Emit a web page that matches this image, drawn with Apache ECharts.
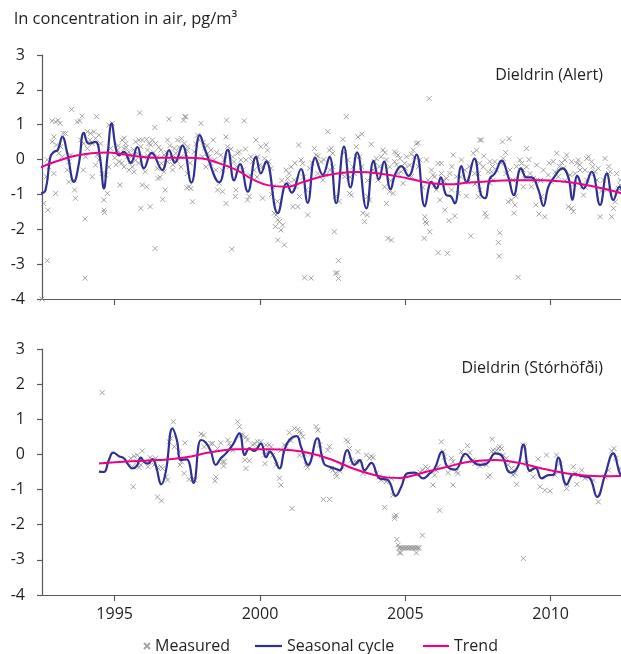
<!DOCTYPE html>
<html><head><meta charset="utf-8">
<script src="https://cdn.jsdelivr.net/npm/echarts@6/dist/echarts.min.js"></script>
<style>html,body{margin:0;padding:0;background:#fff}#c{width:621px;height:654px}</style>
</head><body><div id="c"></div>
<script>
const xTickYears = [1995, 2000, 2005, 2010];
const yMin = -4, yMax = 3;

const alertMeasured = [
[1992.5,-4.0],[1992.65,-0.49],[1992.56,-1.26],[1992.7,-1.45],[1992.68,-2.9],[1992.85,1.11],[1992.97,1.08],[1993.05,1.13],[1993.12,1.04],[1992.91,0.65],[1992.85,0.51],[1993.0,0.42],[1992.91,-0.4],[1992.97,-0.97],[1993.23,0.75],[1993.31,0.75],[1993.37,-0.3],[1993.42,-0.64],[1993.52,1.44],[1993.6,-0.59],[1993.62,-0.87],[1993.65,-1.11],[1993.71,1.08],[1993.8,1.11],[1993.88,1.25],[1993.92,-0.3],[1993.98,-1.7],[1993.98,-3.4],[1994.06,0.8],[1994.17,0.75],[1994.29,0.8],[1994.15,0.56],[1994.23,0.46],[1994.23,-0.49],[1994.38,1.23],[1994.34,0.61],[1994.46,0.7],[1994.34,-0.16],[1994.63,-1.16],[1994.63,-1.45],[1994.65,-1.52],[1994.75,-0.97],[1995.18,-0.73],[1994.92,1.04],[1994.8,0.99],[1995.26,0.56],[1995.32,0.61],[1995.38,0.46],[1995.44,0.08],[1995.55,-0.06],[1995.61,-0.21],[1995.67,-0.35],[1995.86,1.34],[1995.9,-1.4],[1995.95,-0.73],[1996.1,-0.78],[1996.22,-1.35],[1996.39,-2.55],[1996.38,0.92],[1996.49,-0.54],[1996.56,-0.51],[1996.65,-1.14],[1996.74,-0.87],[1996.87,1.16],[1996.82,0.56],[1997.16,0.56],[1997.22,0.35],[1997.37,1.13],[1997.41,1.23],[1997.48,-0.81],[1997.5,-0.4],
[1995.09,0.27],[1995.21,0.18],[1995.32,0.32],[1995.49,0.22],[1995.55,0.13],[1995.72,-0.02],[1995.78,0.18],[1995.9,0.37],[1996.01,0.08],[1996.13,0.27],[1996.18,0.46],[1996.3,0.56],[1996.41,0.46],[1996.47,0.08],[1996.59,0.27],[1996.7,0.13],[1996.82,-0.06],[1996.99,0.03],[1997.05,0.32],[1997.1,0.18],[1997.28,0.08],[1997.39,0.46],[1997.5,0.27],[1995.72,0.51],[1995.84,0.56],[1995.95,0.56],[1996.1,0.58],[1996.24,0.42],[1996.47,-0.25],[1996.61,-0.11],[1996.7,-0.35],[1996.99,-0.3],[1997.28,-0.21],[1995.15,-0.06],[1995.32,-0.21],[1995.49,-0.3],
[1992.68,-0.01],[1992.74,-0.21],[1993.08,0.18],[1993.14,0.37],[1993.2,0.08],[1993.43,-0.06],[1993.48,0.13],[1993.83,0.56],[1993.94,0.46],[1994.0,0.08],[1994.06,0.32],[1994.4,0.13],[1994.46,-0.01],[1994.52,0.46],[1994.57,-0.4],[1994.69,-0.44],[1994.8,-0.21],[1994.86,0.32],
[1997.45,1.23],[1997.97,1.04],[1997.68,-1.21],[1997.85,0.7],[1997.91,0.56],[1997.56,-0.78],[1997.62,-0.83],[1998.2,0.18],[1998.25,0.08],[1998.39,0.56],[1998.43,-0.01],[1998.48,-0.3],[1998.54,-0.87],[1998.6,-0.68],[1998.71,-0.92],[1998.83,0.65],[1998.85,1.13],[1998.88,0.37],[1998.83,-1.26],[1999.03,-2.57],[1999.15,-1.06],[1999.17,-0.87],[1999.23,0.18],[1999.29,0.22],[1999.34,-0.01],[1999.46,1.11],[1999.52,-0.01],[1999.57,-1.16],[1999.63,-1.06],[1999.86,0.56],[1999.92,0.08],[1999.98,-0.16],[2000.09,-1.11],[2000.21,0.42],[2000.26,0.27],[2000.3,-0.06],[2000.49,-1.54],[2000.55,-1.59],[2000.53,-1.92],[2000.61,-1.73],[2000.67,-1.78],[2000.72,-2.02],[2000.61,-2.31],[2000.84,-2.45],[2000.78,-1.88],[2000.9,-0.3],[2000.95,-0.54],[2001.13,-1.35],[2001.3,-1.35],[2001.36,-1.06],[2001.33,0.42],[2001.41,-0.01],[2001.47,-0.11],[2001.53,-3.39],[2001.76,-3.4],[2001.64,-1.59],[2001.87,0.32],[2001.93,0.13],[2002.33,0.8],[2002.39,0.27],[2002.45,0.32],[2002.6,-1.06],[2002.6,-3.26],[2002.56,-2.07],
[1997.51,0.37],[1997.74,0.22],[1998.02,0.08],[1998.08,0.32],[1998.14,-0.21],[1998.31,0.27],[1998.65,0.13],[1998.77,-0.01],[1998.94,-0.21],[1999.06,0.08],[1999.11,-0.06],[1999.4,-0.3],[1999.69,0.08],[1999.75,-0.06],[1999.8,-0.3],[2000.03,0.37],[2000.15,0.03],[2000.38,-0.25],[2000.44,-0.78],[2001.01,-0.68],[2001.07,-0.21],[2001.18,-0.59],[2001.24,-0.78],[2001.59,-0.87],[2001.7,-0.25],[2001.99,-0.4],[2002.1,-0.06],[2002.16,-0.59],[2002.27,-0.44],[2002.5,0.18],
[2002.7,-2.9],[2002.66,-3.25],[2002.7,-3.41],[2002.97,1.23],[2002.85,0.58],[2003.02,-0.01],[2003.08,-0.97],[2003.14,-1.02],[2003.31,0.37],[2003.37,0.65],[2003.51,0.73],[2003.54,-1.54],[2003.6,-1.78],[2003.69,-1.59],[2003.71,-1.06],[2003.77,-1.16],[2003.83,0.44],[2003.94,-0.06],[2004.0,0.03],[2004.23,0.27],[2004.35,-0.01],[2004.4,-2.26],[2004.52,-2.31],[2004.46,-0.92],[2004.58,-0.97],[2004.35,-1.26],[2004.63,0.22],[2004.69,0.18],[2004.75,0.13],[2004.81,0.03],[2004.86,-0.35],[2004.92,-0.68],[2005.27,0.27],[2005.38,0.46],[2005.44,0.48],[2004.98,-0.11],[2005.67,-1.64],[2005.69,-1.78],[2005.73,-1.83],[2005.65,-2.26],[2005.84,-2.07],[2005.73,-0.01],[2005.82,1.75],[2005.9,-0.3],[2005.96,-0.44],[2006.07,-0.87],[2006.13,-0.11],[2006.19,-1.16],[2006.24,-0.4],[2006.13,-2.67],[2006.45,-2.69],[2006.36,-1.45],[2006.5,-1.75],[2006.7,-1.62],[2006.65,0.13],[2006.93,-0.01],[2007.1,-1.05],[2007.25,-2.19],[2007.34,0.18],[2007.45,0.27],[2007.51,-1.06],[2007.56,0.56],
[2002.51,-0.21],[2002.79,-0.4],[2002.91,-0.49],[2003.2,-0.21],[2003.25,-0.4],[2003.43,0.08],[2003.89,-0.3],[2004.06,-0.59],[2004.17,0.08],[2004.29,-0.78],[2004.46,-0.21],[2004.63,-0.06],[2004.75,-0.4],[2005.04,0.08],[2005.15,-0.16],[2005.21,-0.49],[2005.32,0.08],[2005.5,-0.01],[2005.78,-0.59],[2006.01,-0.73],[2006.24,-0.11],[2006.42,-0.54],[2006.53,-0.4],[2006.59,-0.87],[2006.76,-0.49],[2006.82,-0.97],[2007.05,-0.3],[2007.16,-0.64],[2007.39,-0.4],[2007.56,-0.11],
[2007.51,-0.4],[2007.56,-0.87],[2007.62,0.56],[2007.74,-1.54],[2007.79,-1.64],[2007.91,-0.68],[2007.91,-0.06],[2007.97,-0.35],[2008.08,-0.06],[2008.25,-2.1],[2008.2,-2.38],[2008.23,-2.77],[2008.34,0.51],[2008.37,0.03],[2008.54,-1.21],[2008.65,-1.16],[2008.6,-0.3],[2008.77,-1.3],[2008.74,-1.54],[2008.8,-1.05],[2008.88,-3.38],[2008.94,-0.01],[2009.0,-0.11],[2009.06,-0.78],[2009.11,-0.54],[2009.29,-0.4],[2009.34,-0.78],[2009.52,-0.16],[2009.49,-1.3],[2009.6,-1.56],[2009.69,-1.06],[2009.8,-1.64],[2009.92,-0.44],[2010.03,-0.64],[2010.38,-0.09],[2010.49,-0.01],[2010.61,-1.35],[2010.78,-1.49],[2010.72,-1.4],[2010.9,-0.11],[2010.95,-0.01],[2011.01,-0.3],[2011.07,-0.78],[2011.13,-1.02],[2011.24,-0.59],[2011.41,-0.06],[2011.53,-0.35],[2011.7,-1.64],[2011.82,-0.59],[2011.99,-0.4],[2012.1,-1.64],[2012.16,-1.4],[2012.22,-1.21],[2012.33,-0.83],[2012.4,-0.59],
[2007.68,-0.21],[2007.85,-0.35],[2008.02,-0.59],[2008.14,-0.3],[2008.46,-0.4],[2008.71,-0.59],[2009.17,-0.21],[2009.4,-0.54],[2009.75,-0.3],[2010.15,-0.35],[2010.26,-0.49],[2010.44,-0.25],[2010.67,-0.44],[2010.84,-0.4],[2011.18,-0.3],[2011.36,-0.4],[2011.59,-0.59],[2011.64,-0.25],[2011.93,-0.87],[2012.05,-0.35],[2012.27,-0.4],[2012.39,-0.73],[2009.17,0.32],[2010.21,0.18],[2010.55,0.13],[2011.3,0.08],[2011.87,0.03],[2010.09,-0.06],[2010.72,-0.06],[2011.24,0.03],[2008.57,0.6],
[1995.0,0.05],[1995.05,-0.15],[1995.12,0.4],[1995.24,-0.1],[1995.4,0.35],[1995.6,0.1],[1995.65,0.28],[1995.82,-0.1],[1996.05,-0.35],[1996.15,0.1],[1996.35,0.2],[1996.52,0.35],[1996.78,0.2],[1996.9,0.4],[1997.0,-0.15],[1997.15,-0.05],[1997.3,0.6],[1997.45,0.15],[1997.6,-0.1],[1997.8,0.45],[1998.05,0.5],[1998.18,0.4],[1998.3,-0.1],[1998.5,0.2],[1998.7,-0.3],[1999.0,0.3],[1999.2,-0.2],[1999.5,0.3],[1999.65,-0.45],[1999.9,-0.5],[2000.1,-0.2],[2000.4,-1.0],[2000.6,-1.2],[2000.75,-0.6],[2001.0,-0.4],[2001.2,-0.1],[2001.5,-0.5],[2001.8,-0.1],[2002.0,0.1],[2002.2,0.0],[2002.4,-0.3],[2002.72,-1.2],[2002.9,0.2],[2003.1,-0.5],[2003.3,0.1],[2003.5,-0.2],[2003.7,-0.6],[2004.1,-0.2],[2004.3,0.2],[2004.5,-0.6],[2004.7,-0.15],[2005.0,-0.25],[2005.2,0.15],[2005.45,-0.2],[2005.6,-0.8],[2006.0,-0.5],[2006.3,-0.6],[2006.6,-0.2],[2006.9,-0.5],[2007.2,-0.2],[2007.4,-0.7],[2007.7,0.1],[2008.0,-0.2],[2008.3,-0.1],[2008.45,0.2],[2008.82,-0.2],[2009.05,-0.3],[2009.25,0.0],[2009.45,-0.6],[2009.65,-0.6],[2009.95,-0.1],[2010.3,-0.2],[2010.5,-0.6],[2010.8,-0.7],[2011.0,-0.15],[2011.2,-0.8],[2011.45,-0.2],[2011.75,-0.9],[2012.0,-0.2],[2012.3,-0.9]
];

const alertSeasonal = [
[1992.47,-0.97],[1992.62,-0.88],[1992.79,0.08],[1992.91,0.22],[1993.04,0.27],[1993.2,0.65],[1993.37,0.18],[1993.6,-0.64],[1993.77,-0.11],[1993.94,0.77],[1994.11,0.46],[1994.34,0.51],[1994.49,0.08],[1994.63,-0.83],[1994.75,0.08],[1994.9,1.04],[1995.03,0.37],[1995.15,0.12],[1995.32,0.22],[1995.55,-0.1],[1995.78,0.36],[1996.01,-0.25],[1996.27,0.19],[1996.64,-0.3],[1996.87,0.27],[1997.07,-0.09],[1997.33,0.4],[1997.64,-0.66],[1997.93,0.7],[1998.14,0.21],[1998.6,-0.65],[1998.89,0.28],[1999.11,-0.6],[1999.31,-0.13],[1999.58,-0.92],[1999.86,0.08],[2000.03,-0.4],[2000.21,-0.05],[2000.61,-1.54],[2000.92,-0.68],[2001.09,-0.95],[2001.41,-0.27],[2001.64,-1.24],[2001.9,0.05],[2002.16,-0.44],[2002.39,0.08],[2002.62,-1.25],[2002.89,0.37],[2003.11,-0.8],[2003.34,0.21],[2003.66,-1.4],[2003.91,-0.04],[2004.09,-0.57],[2004.27,-0.06],[2004.49,-0.85],[2004.66,-0.4],[2004.86,-0.19],[2005.11,-0.47],[2005.38,0.14],[2005.67,-1.34],[2005.9,-0.64],[2006.07,-0.83],[2006.22,-0.51],[2006.41,-1.02],[2006.56,-1.05],[2006.7,-1.26],[2006.93,-0.19],[2007.1,-0.65],[2007.37,0.03],[2007.6,-1.0],[2007.74,-1.11],[2007.91,-0.54],[2008.08,-0.4],[2008.31,-0.03],[2008.54,-0.49],[2008.73,-1.02],[2008.98,-0.25],[2009.17,-0.51],[2009.34,-0.51],[2009.58,-0.87],[2009.75,-1.33],[2009.92,-0.78],[2010.09,-0.54],[2010.41,-0.25],[2010.61,-0.51],[2010.75,-1.16],[2010.92,-0.47],[2011.13,-0.83],[2011.41,-0.35],[2011.7,-1.3],[2011.93,-0.4],[2012.16,-1.16],[2012.37,-0.78],[2012.48,-0.96]
];

const alertTrend = [
[1992.45,-0.22],[1993.0,-0.05],[1993.6,0.1],[1994.2,0.18],[1994.75,0.2],[1995.3,0.15],[1995.9,0.08],[1996.5,0.05],[1997.5,0.05],[1998.0,0.03],[1998.6,-0.11],[1999.2,-0.3],[1999.75,-0.57],[2000.3,-0.74],[2000.9,-0.78],[2001.5,-0.64],[2002.05,-0.5],[2002.6,-0.41],[2003.3,-0.36],[2004.1,-0.4],[2005.1,-0.54],[2005.9,-0.68],[2006.5,-0.71],[2007.2,-0.66],[2007.9,-0.62],[2008.6,-0.59],[2009.7,-0.59],[2010.4,-0.63],[2010.9,-0.68],[2011.8,-0.83],[2012.45,-0.97]
];

const storMeasured = [
[1994.57,1.76],[1995.64,-0.92],[1995.55,-0.11],[1995.67,-0.05],[1995.78,-0.02],[1995.76,-0.21],[1995.61,-0.35],[1995.95,0.1],[1995.84,-0.37],[1995.9,-0.3],[1996.22,-0.09],[1996.3,-0.16],[1996.18,-0.21],[1996.41,-0.11],[1996.36,-0.3],[1996.15,-0.35],[1996.47,-0.37],[1996.59,-0.35],[1996.64,-0.4],[1996.47,-1.21],[1996.61,-1.32],[1996.82,-0.73],[1996.76,-0.64],[1996.87,0.36],[1996.93,0.46],[1997.02,0.93],[1997.05,0.22],[1997.22,0.08],[1997.25,-0.3],[1997.3,-0.21],[1997.39,-0.54],[1997.42,0.33],[1997.56,-0.71],[1997.68,-0.71],[1997.76,-0.73],[1997.97,0.58],[1998.06,0.55],[1998.08,0.22],[1998.31,0.31],[1998.37,0.31],[1998.48,-0.64],[1998.45,-0.75],[1998.54,0.17],[1998.65,0.33],[1998.71,-0.21],[1998.75,-0.33],[1998.77,-0.21],[1998.89,0.41],[1998.94,0.31],[1999.0,0.22],[1999.06,0.12],[1999.23,0.93],[1999.29,0.79],[1999.34,0.55],[1999.4,0.55],[1999.52,0.5],[1999.57,0.41],[1999.52,-0.4],[1999.48,-0.16],[1999.63,-0.18],[1999.75,0.27],[1999.8,0.31],[1999.92,0.36],[2000.03,0.36],[2000.15,-0.02],[2000.17,-0.26],[2000.26,0.08],[2000.38,0.22],
[2000.21,0.27],[2000.32,0.27],[2000.44,-0.02],[2000.55,-0.3],[2000.67,-0.68],[2000.72,-0.87],[2000.72,0.12],[2000.84,0.27],[2000.9,0.22],[2001.01,0.62],[2001.07,0.39],[2001.1,-1.54],[2001.18,0.74],[2001.3,0.71],[2001.36,0.65],[2001.41,0.6],[2001.47,0.5],[2001.36,-0.02],[2001.53,0.01],[2001.64,-0.37],[2001.59,-0.3],[2001.76,0.01],[2001.93,0.79],[2001.99,0.69],[2002.05,0.27],[2002.1,-0.05],[2002.18,-1.28],[2002.39,-1.28],[2002.33,0.12],[2002.39,0.22],[2002.45,-0.4],[2002.51,-0.45],[2002.6,-0.54],[2002.64,-0.62],[2002.74,-0.47],[2002.83,-0.35],[2002.97,0.41],[2003.02,0.36],[2003.08,0.17],[2003.14,-0.16],[2003.2,-0.24],[2003.31,-0.21],[2003.37,0.08],[2003.43,-0.21],[2003.54,-0.54],[2003.6,-0.45],[2003.66,-0.02],[2003.77,-0.11],[2003.83,-0.05],[2003.89,-0.09],[2004.0,-0.54],[2004.09,-0.64],[2004.17,-0.73],[2004.29,-1.51],[2004.34,-0.78],[2004.52,-0.68],[2004.57,-1.16],[2004.63,-1.76],[2004.69,-1.73],[2004.63,-1.82],[2004.71,-2.42],[2004.75,-2.58],[2005.59,-2.3],[2005.95,-0.87],[2006.01,-0.59],[2006.07,-0.45],[2006.13,-0.35],[2006.18,-1.59],
[2004.78,-2.66],[2004.83,-2.66],[2004.88,-2.66],[2004.93,-2.66],[2004.98,-2.66],[2005.03,-2.66],[2005.08,-2.66],[2005.13,-2.66],[2005.18,-2.66],[2005.23,-2.66],[2005.28,-2.66],[2005.33,-2.66],[2005.38,-2.66],[2005.43,-2.66],[2005.48,-2.66],[2004.8,-2.8],[2004.84,-2.8],[2005.38,-2.8],
[2005.5,-0.5],[2005.6,-0.45],[2005.7,-0.35],[2005.77,-0.4],
[2006.24,0.36],[2006.3,0.08],[2006.35,-0.07],[2006.47,-0.52],[2006.58,-0.11],[2006.64,-0.21],[2006.64,-0.87],[2006.76,-0.49],[2006.81,-0.54],[2006.93,0.08],[2006.99,-0.02],[2007.14,0.25],[2007.22,0.05],[2007.33,-0.16],[2007.39,-0.26],[2007.48,-0.21],[2007.56,-0.33],[2007.68,-0.26],[2007.79,-0.3],[2007.85,-0.64],[2007.91,-0.59],[2007.97,0.08],[2007.99,0.43],[2008.02,0.12],[2008.14,0.12],[2008.2,0.17],[2008.25,0.22],[2008.31,0.17],[2008.37,-0.02],[2008.48,-0.11],[2008.54,-0.3],[2008.65,-0.4],[2008.71,-0.59],[2008.77,-0.54],[2008.83,-0.85],[2009.06,0.27],[2009.09,0.22],[2009.06,-2.96],[2009.17,-0.26],[2009.29,-0.45],[2009.4,-0.64],[2009.57,-0.13],[2009.63,-0.92],[2009.8,-1.02],[2009.86,-0.02],[2009.98,-1.04],[2010.15,-0.59],[2010.2,-0.02],[2010.32,-0.26],[2010.55,-0.97],[2010.55,-0.83],[2010.78,-0.35],[2010.84,-0.54],[2010.9,-0.85],[2010.95,-0.59],[2011.07,-0.45],[2011.18,-0.68],[2011.3,-0.64],[2011.47,-0.73],[2011.64,-1.35],[2011.87,-0.64],[2011.99,-0.45],[2012.1,0.1],[2012.18,0.17],[2012.25,-0.11],[2012.39,-0.4]
];

const storSeasonal = [
[1994.46,-0.49],[1994.63,-0.5],[1994.8,-0.16],[1994.95,0.05],[1995.15,-0.05],[1995.32,-0.11],[1995.44,-0.26],[1995.61,-0.4],[1995.76,-0.33],[1995.9,-0.09],[1996.01,-0.21],[1996.15,-0.26],[1996.3,-0.13],[1996.41,-0.3],[1996.61,-0.85],[1996.76,-0.49],[1996.99,0.74],[1997.14,0.41],[1997.28,-0.16],[1997.48,-0.14],[1997.71,-0.81],[1997.97,0.41],[1998.14,0.33],[1998.31,0.08],[1998.48,-0.3],[1998.65,-0.11],[1998.83,0.03],[1999.06,0.27],[1999.29,0.6],[1999.48,-0.02],[1999.63,0.17],[1999.8,0.1],[2000.03,0.31],[2000.21,-0.08],[2000.34,0.08],[2000.49,-0.09],[2000.67,-0.4],[2000.84,0.12],[2001.01,0.41],[2001.26,0.52],[2001.41,0.22],[2001.66,-0.3],[2001.97,0.46],[2002.2,-0.26],[2002.39,-0.35],[2002.56,-0.4],[2002.74,-0.45],[2003.0,0.12],[2003.25,-0.3],[2003.43,-0.16],[2003.6,-0.45],[2003.83,-0.24],[2004.11,-0.68],[2004.4,-0.73],[2004.67,-1.18],[2004.86,-0.92],[2005.07,-0.54],[2005.32,-0.52],[2005.61,-0.68],[2005.84,-0.54],[2006.01,-0.4],[2006.26,0.08],[2006.44,-0.34],[2006.72,-0.43],[2007.07,0.02],[2007.3,-0.18],[2007.55,-0.3],[2007.8,-0.26],[2008.1,0.03],[2008.31,-0.03],[2008.62,-0.52],[2008.87,-0.35],[2009.06,0.28],[2009.29,-0.47],[2009.48,-0.38],[2009.69,-0.68],[2009.92,-0.59],[2010.09,-0.58],[2010.26,-0.09],[2010.55,-0.86],[2010.8,-0.56],[2011.1,-0.62],[2011.33,-0.66],[2011.6,-1.21],[2011.87,-0.59],[2012.15,0.03],[2012.39,-0.56],[2012.48,-0.6]
];

const storTrend = [
[1994.46,-0.26],[1995.3,-0.21],[1996.5,-0.16],[1997.4,-0.09],[1998.3,0.06],[1999.2,0.15],[2000.2,0.15],[2001.1,0.12],[2001.8,0.02],[2002.5,-0.16],[2003.2,-0.4],[2003.9,-0.58],[2004.4,-0.66],[2004.8,-0.67],[2005.3,-0.59],[2005.8,-0.48],[2006.4,-0.36],[2007.2,-0.21],[2008.1,-0.16],[2008.9,-0.24],[2009.7,-0.4],[2010.8,-0.57],[2011.7,-0.62],[2012.45,-0.61]
];

const FONT = '"Open Sans", "DejaVu Sans", sans-serif';
const TXT = '#231f20';
const AX = '#58595b';
const BLUE = '#2e3192';
const PINK = '#ec008c';
const GREY = '#8f8f8f';
const XSYM = 'path://M0,0L10,10M10,0L0,10';
const LINE_ICON = 'path://M0,0L27,0L27,2.2L0,2.2Z';

function xAxis(gi, showLabels) {
  return {
    type: 'value', gridIndex: gi, min: 1992.5, max: 2012.42,
    axisLine: { show: true, onZero: false, lineStyle: { color: AX, width: 1.2 } },
    axisTick: { show: true, customValues: xTickYears, length: 6, lineStyle: { color: AX, width: 1.2 } },
    axisLabel: { show: showLabels, customValues: xTickYears, margin: 11, color: TXT, fontSize: 16, fontFamily: FONT, formatter: v => String(v) },
    splitLine: { show: false }
  };
}
function yAxis(gi) {
  return {
    type: 'value', gridIndex: gi, min: yMin, max: yMax, interval: 1,
    axisLine: { show: true, lineStyle: { color: AX, width: 1.2 } },
    axisTick: { show: true, length: 5, lineStyle: { color: AX, width: 1.2 } },
    axisLabel: { margin: 17, color: TXT, fontSize: 16, fontFamily: FONT },
    splitLine: { show: false }
  };
}
function scatter(i, data) {
  return { name: 'Measured', type: 'scatter', xAxisIndex: i, yAxisIndex: i, data: data,
    symbol: XSYM, symbolSize: 5, silent: true, z: 1,
    itemStyle: { color: 'rgba(0,0,0,0)', borderColor: GREY, borderWidth: 1 } };
}
function line(i, name, data, color, w, z) {
  return { name: name, type: 'line', xAxisIndex: i, yAxisIndex: i, data: data, smooth: 0.45,
    symbol: 'none', showSymbol: false, silent: true, z: z, color: color,
    lineStyle: { color: color, width: w } };
}
const legendText = { color: TXT, fontSize: 16, fontFamily: FONT };

const chart = echarts.init(document.getElementById('c'), null, { renderer: 'canvas' });
chart.setOption({
  animation: false,
  backgroundColor: '#fff',
  title: { text: 'ln concentration in air, pg/m³', left: 9, top: 6,
    textStyle: { color: TXT, fontSize: 16.5, fontWeight: 'normal', fontFamily: FONT } },
  grid: [
    { left: 42, right: 0, top: 55, height: 244 },
    { left: 42, right: 0, top: 349, height: 246 }
  ],
  xAxis: [xAxis(0, false), xAxis(1, true)],
  yAxis: [yAxis(0), yAxis(1)],
  legend: [
    { data: ['Measured'], left: 143, top: 638, padding: 0, itemWidth: 6, itemHeight: 6, itemGap: 0, textStyle: legendText, selectedMode: false },
    { data: [{ name: 'Seasonal cycle', icon: LINE_ICON }], left: 255, top: 638, padding: 0, itemWidth: 27, itemHeight: 2.2, textStyle: legendText, selectedMode: false },
    { data: [{ name: 'Trend', icon: LINE_ICON }], left: 423, top: 638, padding: 0, itemWidth: 26, itemHeight: 2.2, textStyle: legendText, selectedMode: false }
  ],
  graphic: [
    { type: 'text', x: 603, y: 75, style: { text: 'Dieldrin (Alert)', fill: TXT, font: '16px ' + FONT, align: 'right', verticalAlign: 'middle' } },
    { type: 'text', x: 603, y: 368, style: { text: 'Dieldrin (Stórhöfði)', fill: TXT, font: '16px ' + FONT, align: 'right', verticalAlign: 'middle' } }
  ],
  series: [
    scatter(0, alertMeasured),
    line(0, 'Seasonal cycle', alertSeasonal, BLUE, 2.2, 2),
    line(0, 'Trend', alertTrend, PINK, 2, 3),
    scatter(1, storMeasured),
    line(1, 'Seasonal cycle', storSeasonal, BLUE, 2.2, 2),
    line(1, 'Trend', storTrend, PINK, 2, 3)
  ]
});
</script>
</body></html>
